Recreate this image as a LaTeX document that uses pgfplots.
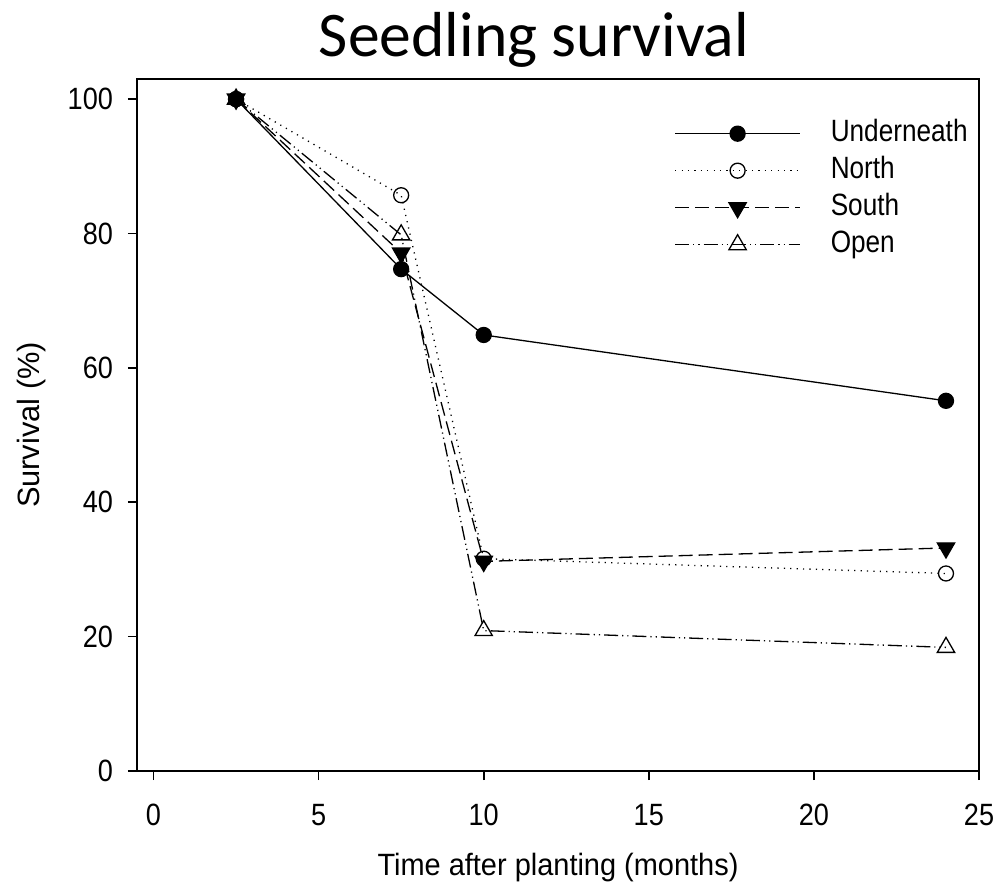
\documentclass[border=0pt]{standalone}
\usepackage{pgfplots}
\pgfplotsset{compat=1.18}
\usepackage{fontspec}
\setmainfont{Liberation Sans}
\newfontfamily\titlefont{Carlito}
\newfontfamily\tickfont[FakeStretch=0.88]{Liberation Sans}
\newfontfamily\xlabelfont[FakeStretch=0.94]{Liberation Sans}
\newfontfamily\legendfont[FakeStretch=0.85]{Liberation Sans}

\begin{document}
\begin{tikzpicture}
% fixed page size
\path[use as bounding box] (0,0) rectangle (499.5pt,441.5pt);

\node[anchor=base, font=\titlefont\fontsize{31.8}{35}\selectfont] at (267pt,413pt) {Seedling survival};

\begin{axis}[
  at={(68.5pt,56pt)}, anchor=south west,
  scale only axis, width=421pt, height=346pt,
  xmin=-0.5, xmax=25, ymin=0, ymax=103,
  xtick={0,5,10,15,20,25}, ytick={0,20,40,60,80,100},
  tick align=outside, major tick length=4.5pt,
  xtick pos=left, ytick pos=left,
  axis line style={line width=1pt},
  every tick/.style={black, line width=0.8pt},
  /pgf/number format/assume math mode=true,
  tick label style={font=\tickfont\fontsize{15.4}{18}\selectfont},
  xticklabel style={yshift=-8.5pt},
  yticklabel style={xshift=-4pt},
  xlabel={Time after planting (months)},
  ylabel={Survival (\%)},
  xlabel style={font=\xlabelfont\fontsize{15.4}{18}\selectfont,
    at={(axis description cs:0.5,-0.1503)}, anchor=base},
  ylabel style={font=\fontsize{15.4}{18}\selectfont,
    at={(axis description cs:-0.1247,0.5)}, anchor=center},
  legend style={at={(axis description cs:0.6307,0.949)}, anchor=north west,
    draw=none, fill=none, font=\legendfont\fontsize{15.4}{18}\selectfont,
    row sep=3.5pt, column sep=0pt,
    /tikz/every odd column/.append style={column sep=15pt},
    nodes={inner sep=0pt, text height=11.5pt, text depth=3.5pt}},
  legend cell align=left,
  legend image code/.code={
    \draw[#1, mark=none] (0pt,0pt) -- (62.5pt,0pt);
    \draw[#1, only marks] plot coordinates {(31.25pt,0pt)};
  },
  every axis plot/.append style={line width=0.65pt, black},
]

% Underneath
\addplot[solid, mark=*, mark size=3.75pt, mark options={solid, fill=black}]
  coordinates {(2.5,100) (7.5,74.7) (10,64.9) (24,55.1)};
\addlegendentry{Underneath}

% North
\addplot[dash pattern=on 0.6pt off 2.6pt, mark=o, mark size=3.75pt, mark options={solid, fill=white}]
  coordinates {(2.5,100) (7.5,85.7) (10,31.6) (24,29.4)};
\addlegendentry{North}

% South
\addplot[dash pattern=on 7pt off 3pt, mark=triangle*, mark size=5pt, mark options={solid, fill=black, rotate=180}]
  coordinates {(2.5,100) (7.5,77.1) (10,31.2) (24,33.2)};
\addlegendentry{South}

% Open
\addplot[dash pattern=on 7pt off 2pt on 0.6pt off 2pt on 0.6pt off 2pt, mark=triangle, mark size=5pt, mark options={solid, fill=white}]
  coordinates {(2.5,100) (7.5,79.8) (10,20.9) (24,18.4)};
\addlegendentry{Open}

\end{axis}
\end{tikzpicture}
\end{document}
